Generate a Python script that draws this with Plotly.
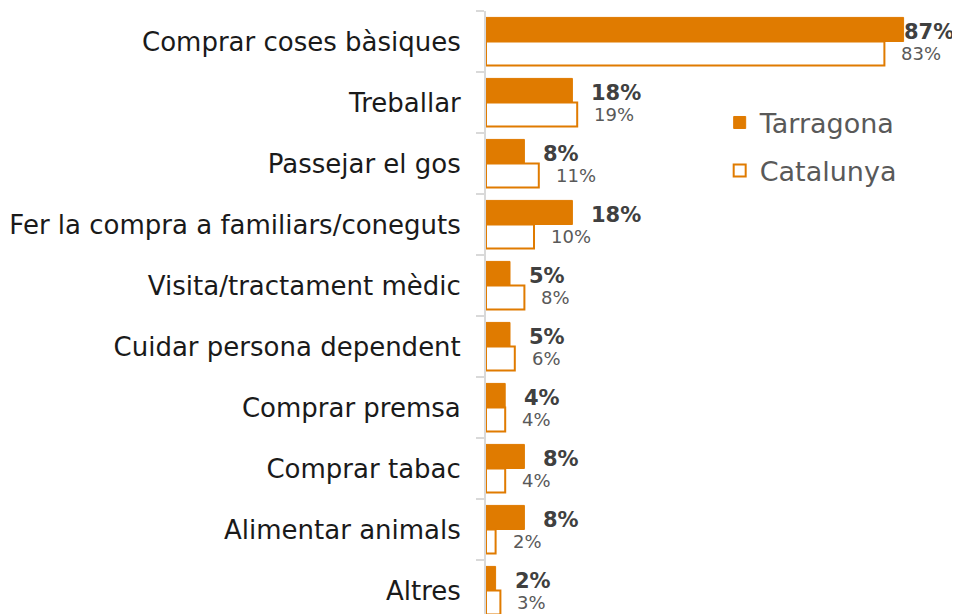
import plotly.graph_objects as go

categories = ["Comprar coses bàsiques", "Treballar", "Passejar el gos",
              "Fer la compra a familiars/coneguts", "Visita/tractament mèdic",
              "Cuidar persona dependent", "Comprar premsa", "Comprar tabac",
              "Alimentar animals", "Altres"]
tarragona = [87, 18, 8, 18, 5, 5, 4, 8, 8, 2]
catalunya = [83, 19, 11, 10, 8, 6, 4, 4, 2, 3]

ORANGE = "#E07B00"
FONT = "DejaVu Sans"
pos = list(range(len(categories)))

fig = go.Figure()
fig.add_trace(go.Bar(y=pos, x=tarragona, orientation="h", name="Tarragona",
                     marker=dict(color=ORANGE, line=dict(color=ORANGE, width=1)),
                     legendgroup="t"))
fig.add_trace(go.Bar(y=pos, x=catalunya, orientation="h", name="Catalunya",
                     marker=dict(color="white", line=dict(color=ORANGE, width=2)),
                     legendgroup="c"))

# value labels, a bit away from the bar end like the excel original
for i, (t, c) in enumerate(zip(tarragona, catalunya)):
    fig.add_annotation(x=t, y=i - 0.16, text=f"<b>{t}%</b>", showarrow=False,
                       xanchor="left", xshift=-2 if t > 80 else 17,
                       font=dict(family=FONT, size=21, color="#404040"))
    fig.add_annotation(x=c, y=i + 0.2, text=f"{c}%", showarrow=False,
                       xanchor="left", xshift=15,
                       font=dict(family=FONT, size=18, color="#595959"))

# page body has an 8px margin, so the figure is a bit smaller
fig.update_layout(
    width=952, height=606,
    margin=dict(l=478, r=0, t=3, b=0, autoexpand=False),
    plot_bgcolor="white", paper_bgcolor="white",
    barmode="group", bargap=0.21, bargroupgap=0,
    font=dict(family=FONT, color="#1a1a1a"),
    legend=dict(x=0.493, y=0.855, xanchor="left", yanchor="top",
                font=dict(family=FONT, size=27, color="#595959"),
                tracegroupgap=10, traceorder="grouped"),
)
fig.update_xaxes(range=[0, 98.75], visible=False, automargin=False)
fig.update_yaxes(range=[9.385, -0.5], tickmode="array", tickvals=pos, ticktext=categories,
                 ticks="", ticklabelstandoff=18, showgrid=False, zeroline=False,
                 automargin=False,
                 showline=True, linecolor="#d9d9d9", linewidth=2,
                 tickfont=dict(family=FONT, size=26, color="#1a1a1a"),
                 minor=dict(tick0=-0.5, dtick=1, ticks="outside", ticklen=8,
                            tickcolor="#d9d9d9", tickwidth=2, showgrid=False))

fig.write_html("out.html")
